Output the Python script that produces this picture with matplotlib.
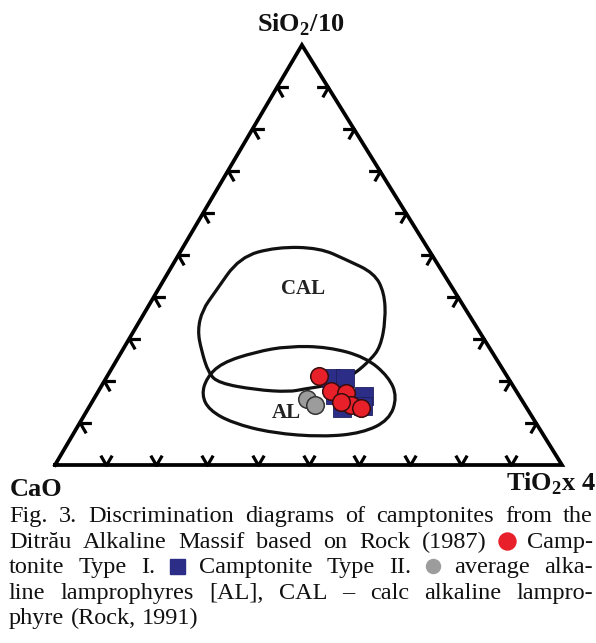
import numpy as np
import matplotlib
matplotlib.use("Agg")
import matplotlib.pyplot as plt
from matplotlib.path import Path
from matplotlib.patches import PathPatch
from matplotlib.markers import MarkerStyle
from matplotlib.lines import Line2D

plt.rcParams['mathtext.fontset'] = 'custom'
plt.rcParams['mathtext.rm'] = 'Liberation Serif:bold'
plt.rcParams['mathtext.bf'] = 'Liberation Serif:bold'

# ternary data: fractions of TiO2x4 and SiO2/10 (CaO is the rest)
cal_tio2 = [0.123, 0.184, 0.270, 0.338, 0.407, 0.450, 0.484, 0.505, 0.500, 0.486, 0.468,
            0.439, 0.403, 0.377, 0.309, 0.228, 0.196, 0.155, 0.125, 0.111, 0.115]
cal_sio2 = [0.495, 0.519, 0.517, 0.488, 0.457, 0.410, 0.345, 0.281, 0.250, 0.219, 0.200,
            0.188, 0.181, 0.174, 0.179, 0.195, 0.219, 0.274, 0.321, 0.369, 0.410]

al_tio2 = [0.210, 0.264, 0.322, 0.402, 0.487, 0.556, 0.596, 0.607, 0.569, 0.495,
           0.392, 0.301, 0.240, 0.208, 0.198]
al_sio2 = [0.243, 0.269, 0.283, 0.281, 0.257, 0.210, 0.162, 0.107, 0.076, 0.067,
           0.076, 0.100, 0.131, 0.167, 0.207]

type1_tio2 = [0.417, 0.458, 0.490, 0.515, 0.491, 0.538]
type1_sio2 = [0.212, 0.176, 0.171, 0.143, 0.150, 0.136]

type2_tio2 = [0.444, 0.472, 0.529, 0.539, 0.500, 0.471]
type2_sio2 = [0.207, 0.207, 0.164, 0.140, 0.136, 0.167]

avg_al_tio2 = [0.420, 0.444]
avg_al_sio2 = [0.157, 0.143]

tick_fracs = [0.1, 0.2, 0.3, 0.4, 0.5, 0.6, 0.7, 0.8, 0.9]

SKEW = 0.487  # apex sits slightly left of centre in the original
RED, NAVY, GREY = '#e8202a', '#2b2d86', '#9c9c9c'


def tern(tio2, sio2):
    tio2 = np.asarray(tio2, float)
    sio2 = np.asarray(sio2, float)
    return tio2 + SKEW * sio2, sio2


def smooth_loop(xs, ys):
    pts = np.column_stack([xs, ys])
    mids = (pts + np.roll(pts, -1, axis=0)) / 2
    verts = [mids[-1]]
    codes = [Path.MOVETO]
    for i in range(len(pts)):
        verts += [pts[i], mids[i]]
        codes += [Path.CURVE3, Path.CURVE3]
    return Path(verts, codes)


def chevron(a1, a2):
    r1, r2 = np.radians(a1), np.radians(a2)
    v = [(np.cos(r1), np.sin(r1)), (0, 0), (np.cos(r2), np.sin(r2))]
    return Path(v, [Path.MOVETO, Path.LINETO, Path.LINETO]), np.max(np.abs(v))


W, H = 596, 643
fig = plt.figure(figsize=(W / 100, H / 100), dpi=100)
fig.patch.set_facecolor('white')
ax = fig.add_axes([55 / W, 1 - 465 / H, 507 / W, 420 / H])
ax.set_xlim(0, 1)
ax.set_ylim(0, 1)
ax.axis('off')

# triangle frame
tx, ty = tern([0, 1, 0, 0], [0, 0, 1, 0])
ax.plot(tx, ty, color='black', lw=2.7, solid_joinstyle='miter', clip_on=False, zorder=3)

# chevron ticks on the three edges
t = np.array(tick_fracs)
arm = 8.2
edges = [
    (tern(t, 0 * t), chevron(60, 120)),
    (tern(0 * t, t), chevron(0, -60)),
    (tern(1 - t, t), chevron(180, 240)),
]
for (ex, ey), (path, scale) in edges:
    ax.plot(ex, ey, linestyle='none', marker=MarkerStyle(path), ms=2 * arm * scale,
            mfc='none', mec='black', mew=2.3, clip_on=False, zorder=3)

# field boundaries
for xs, ys in [(cal_tio2, cal_sio2), (al_tio2, al_sio2)]:
    px, py = tern(xs, ys)
    ax.add_patch(PathPatch(smooth_loop(px, py), fill=False, lw=2.3, ec='#111111', zorder=2))

ax.text(*tern(0.285, 0.419), 'CAL', family='Liberation Serif', weight='bold', fontsize=15,
        ha='center', va='center', color='#222222')
ax.text(*tern(0.395, 0.124), 'AL', family='Liberation Serif', weight='bold', fontsize=15,
        ha='center', va='center', color='#222222')

# samples
x2, y2 = tern(type2_tio2, type2_sio2)
ax.scatter(x2, y2, marker='s', s=150, c=NAVY, edgecolors='#1e1f5e', linewidths=0.6, zorder=4)
xg, yg = tern(avg_al_tio2, avg_al_sio2)
ax.scatter(xg, yg, marker='o', s=160, c=GREY, edgecolors='#333333', linewidths=1.1, zorder=5)
x1, y1 = tern(type1_tio2, type1_sio2)
ax.scatter(x1, y1, marker='o', s=160, c=RED, edgecolors='#3a0c0c', linewidths=1.1, zorder=6)

# vertex labels
lab = dict(family='Liberation Serif', weight='bold', fontsize=19, color='#111111')
fig.text(301 / W, 1 - 25 / H, r'SiO$_\mathrm{2}$/10', ha='center', va='center', **lab)
fig.text(10 / W, 1 - 490 / H, 'CaO', ha='left', va='center', **lab)
fig.text(596 / W, 1 - 484 / H, r'TiO$_\mathrm{2}$x 4', ha='right', va='center', **lab)

# caption, justified like the printed figure; None-text tokens are coloured symbols
cap_lines = [
    ([('Fig.', None), ('3.', None), ('Discrimination', None), ('diagrams', None), ('of', None),
      ('camptonites', None), ('from', None), ('the', None)], True),
    ([('Ditrău', None), ('Alkaline', None), ('Massif', None), ('based', None), ('on', None),
      ('Rock', None), ('(1987)', None), ('o', RED), ('Camp-', None)], True),
    ([('tonite', None), ('Type', None), ('I.', None), ('s', NAVY), ('Camptonite', None),
      ('Type', None), ('II.', None), ('o', GREY), ('average', None), ('alka-', None)], True),
    ([('line', None), ('lamprophyres', None), ('[AL],', None), ('CAL', None), ('–', None),
      ('calc', None), ('alkaline', None), ('lampro-', None)], True),
    ([('phyre', None), ('(Rock,', None), ('1991)', None)], False),
]
cap_left, cap_right = 9, 593
baselines = [522, 548, 573, 599, 624]
cap_font = dict(family='Liberation Serif', fontsize=17.5, color='#111111')
sym_px = {RED: 17, NAVY: 15, GREY: 14}

renderer = fig.canvas.get_renderer()
probe = fig.text(0, 0, 'a a', **cap_font)
w_aa = probe.get_window_extent(renderer).width
probe.set_text('aa')
space = w_aa - probe.get_window_extent(renderer).width
probe.remove()

for (tokens, justify), yb in zip(cap_lines, baselines):
    items = []
    for word, col in tokens:
        if col is None:
            txt = fig.text(0, 1 - yb / H, word, va='baseline', ha='left', **cap_font)
            items.append(('t', txt, txt.get_window_extent(renderer).width))
        else:
            items.append(('m', (word, col), sym_px[col]))
    total = sum(w for _, _, w in items)
    gap = (cap_right - cap_left - total) / (len(items) - 1) if justify else space
    x = cap_left
    for kind, obj, w in items:
        if kind == 't':
            obj.set_x(x / W)
        else:
            mk, col = obj
            fig.add_artist(Line2D([(x + w / 2) / W], [1 - (yb - 7) / H], marker=mk,
                                  ms=w * 0.72, mfc=col, mec=col, linestyle='none',
                                  transform=fig.transFigure))
        x += w + gap

fig.savefig('out.png', dpi=100, facecolor='white')
